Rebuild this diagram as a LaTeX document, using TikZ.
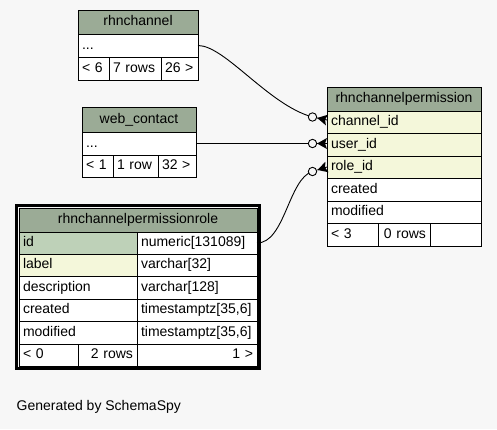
\documentclass[tikz,border=0pt]{standalone}
\usepackage{fontspec}
\setmainfont{Liberation Sans}
\usetikzlibrary{calc}
\definecolor{pagebg}{HTML}{F7F7F7}
\definecolor{headbg}{HTML}{9BAB96}
\definecolor{keybg}{HTML}{BED1B8}
\definecolor{idxbg}{HTML}{F4F7DA}
\newcommand\cellfont{\fontsize{14}{16}\selectfont}
% \tcell{name}{x}{y}{width}{height}{fill}{alignment}{text}
\newcommand\tcell[8]{%
  \pgfmathsetlengthmacro\cellw{#4-8}%
  \node[cell,fill=#6,minimum height=#5pt,text width=\cellw,align=#7] (#1) at (#2,#3) {#8};}
% crow's foot with an open circle: \crowodot{end on the table}{circle centre}
\newcommand\crowodot[2]{%
  \fill ($(#1)!10pt!(#2)$) -- ($(#1)!5.5pt!90:(#2)$) -- ($(#1)!2pt!(#2)$) -- ($(#1)!5.5pt!-90:(#2)$) -- cycle;
  \draw[link] ($(#1)!10pt!(#2)$) -- (#1);
  \draw[link,fill=pagebg] (#2) circle[radius=4.2pt];}
\tikzset{
  cell/.style={draw=black,line width=0.9pt,anchor=north west,inner xsep=4pt,inner ysep=0pt,
    outer sep=0pt,text height=10.5pt,text depth=3pt,font=\cellfont},
  frame/.style={draw=black,line width=3pt,anchor=north west,inner sep=0pt,outer sep=0pt},
  link/.style={draw=black,line width=0.9pt}
}
\begin{document}
\begin{tikzpicture}[x=1pt,y=-1pt]
\useasboundingbox[fill=pagebg] (0,0) rectangle (497,429);

% rhnchannel
\tcell{rc-head}{78}{10}{120}{24}{headbg}{center}{rhnchannel}
\tcell{rc-dots}{78}{34}{120}{23}{white}{left}{...}
\tcell{rc-min}{78}{57}{31}{23}{white}{left}{< 6}
\tcell{rc-rows}{109}{57}{52}{23}{white}{left}{7 rows}
\tcell{rc-max}{161}{57}{37}{23}{white}{left}{26 >}

% web_contact
\tcell{wc-head}{82}{107}{114}{25}{headbg}{center}{web\_contact}
\tcell{wc-dots}{82}{132}{114}{23}{white}{left}{...}
\tcell{wc-min}{82}{155}{31}{22}{white}{left}{< 1}
\tcell{wc-rows}{113}{155}{45}{22}{white}{left}{1 row}
\tcell{wc-max}{158}{155}{38}{22}{white}{left}{32 >}

% rhnchannelpermission
\tcell{cp-head}{327}{87}{154}{24}{headbg}{center}{rhnchannelpermission}
\tcell{cp-chan}{327}{111}{154}{22}{idxbg}{left}{channel\_id}
\tcell{cp-user}{327}{133}{154}{23}{idxbg}{left}{user\_id}
\tcell{cp-role}{327}{156}{154}{22}{idxbg}{left}{role\_id}
\tcell{cp-created}{327}{178}{154}{23}{white}{left}{created}
\tcell{cp-modified}{327}{201}{154}{22}{white}{left}{modified}
\tcell{cp-min}{327}{223}{51}{23}{white}{left}{< 3}
\tcell{cp-rows}{378}{223}{52}{23}{white}{right}{0 rows}
\tcell{cp-max}{430}{223}{51}{23}{white}{left}{}

% rhnchannelpermissionrole
\node[frame,minimum width=243pt,minimum height=163pt] (cr-frame) at (16.5,205.5) {};
\tcell{cr-head}{19}{208}{238}{24}{headbg}{center}{rhnchannelpermissionrole}
\tcell{cr-id}{19}{232}{118}{22}{keybg}{left}{id}
\tcell{cr-idtype}{137}{232}{120}{22}{white}{left}{numeric[131089]}
\tcell{cr-label}{19}{254}{118}{22}{idxbg}{left}{label}
\tcell{cr-labeltype}{137}{254}{120}{22}{white}{left}{varchar[32]}
\tcell{cr-desc}{19}{276}{118}{23}{white}{left}{description}
\tcell{cr-desctype}{137}{276}{120}{23}{white}{left}{varchar[128]}
\tcell{cr-created}{19}{299}{118}{22}{white}{left}{created}
\tcell{cr-createdtype}{137}{299}{120}{22}{white}{left}{timestamptz[35,6]}
\tcell{cr-modified}{19}{321}{118}{23}{white}{left}{modified}
\tcell{cr-modifiedtype}{137}{321}{120}{23}{white}{left}{timestamptz[35,6]}
\tcell{cr-min}{19}{344}{59}{22}{white}{left}{< 0}
\tcell{cr-rows}{78}{344}{59}{22}{white}{right}{2 rows}
\tcell{cr-max}{137}{344}{120}{22}{white}{right}{1 >}

% relationship ends
\coordinate (e1) at ([yshift=2pt]cp-chan.west);
\coordinate (c1) at ($(e1)+(-14.5,-3)$);
\coordinate (e2) at (cp-user.west |- wc-dots.east);
\coordinate (c2) at ($(e2)+(-14.5,0)$);
\coordinate (e3) at (cp-role.west);
\coordinate (c3) at ($(e3)+(-14.5,4.5)$);

% relationships
\draw[link] (rc-dots.east) .. controls +(27,0) and +(-44,-12) .. (c1);
\draw[link] (wc-dots.east) -- (c2);
\draw[link] (cr-idtype.east) .. controls +(28,0) and +(-24,7) .. (c3);
\crowodot{e1}{c1}
\crowodot{e2}{c2}
\crowodot{e3}{c3}

\node[anchor=base west,font=\cellfont,inner sep=0pt] (credit) at (16.5,410) {Generated by SchemaSpy};
\end{tikzpicture}
\end{document}
